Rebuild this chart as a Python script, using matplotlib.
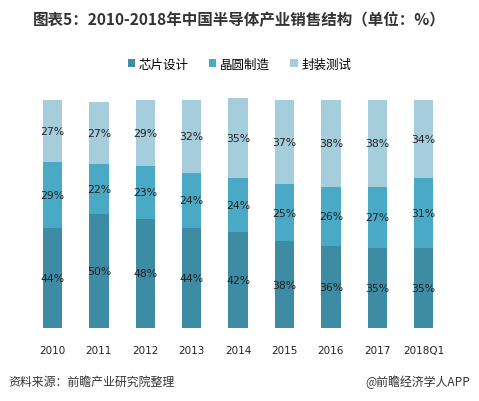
import matplotlib
matplotlib.use("Agg")
import matplotlib.pyplot as plt
import numpy as np

plt.rcParams['font.family'] = ['Noto Sans CJK SC', 'DejaVu Sans']

years = ["2010", "2011", "2012", "2013", "2014", "2015", "2016", "2017", "2018Q1"]
chip_design = [44, 50, 48, 44, 42, 38, 36, 35, 35]
wafer_fab = [29, 22, 23, 24, 24, 25, 26, 27, 31]
pack_test = [27, 27, 29, 32, 35, 37, 38, 38, 34]
series_names = ["芯片设计", "晶圆制造", "封装测试"]
colors = ["#3d8ca4", "#4aaac6", "#a6cddc"]

W, H = 479, 402
fig = plt.figure(figsize=(W / 100, H / 100), dpi=100)
# axes: x from ~29 to ~446 px, y bottom at 329 px, 100% = 228 px
ax = fig.add_axes([29.3 / W, (H - 329) / H, 417.6 / W, 240 / H])

x = np.arange(len(years))
bottom = np.zeros(len(years))
for vals, name, col in zip([chip_design, wafer_fab, pack_test], series_names, colors):
    vals = np.array(vals, dtype=float)
    ax.bar(x, vals, 0.42, bottom=bottom, color=col, label=name, linewidth=0)
    for xi, b, v in zip(x, bottom, vals):
        ax.text(xi, b + v / 2, f"{int(v)}%", ha="center", va="center",
                fontsize=7.8, color="#222222", family="DejaVu Sans")
    bottom += vals

ax.set_xlim(-0.5, len(years) - 0.5)
ax.set_ylim(0, 240 / 228 * 100)
for s in ax.spines.values():
    s.set_visible(False)
ax.set_yticks([])
ax.set_xticks(x)
ax.set_xticklabels(years, fontsize=7.5, color="#222222", family="DejaVu Sans")
ax.tick_params(axis="x", length=0, pad=12)

fig.text(0.5, 1 - 20 / H, "图表5：2010-2018年中国半导体产业销售结构（单位：%）",
         ha="center", va="center", fontsize=11.2, fontweight="bold", color="#333333")

handles, labels = ax.get_legend_handles_labels()
leg = fig.legend(handles, labels, loc="center", bbox_to_anchor=(0.5, 1 - 65 / H),
                 ncol=3, frameon=False, fontsize=9, handlelength=0.6, handleheight=0.6,
                 handletextpad=0.3, columnspacing=1.6)

fig.text(8 / W, 1 - 382 / H, "资料来源：前瞻产业研究院整理", ha="left", va="center",
         fontsize=8.6, style="italic", color="#333333")
fig.text(470 / W, 1 - 382 / H, "@前瞻经济学人APP", ha="right", va="center",
         fontsize=8.6, color="#333333")

fig.savefig("out.png", dpi=100)
